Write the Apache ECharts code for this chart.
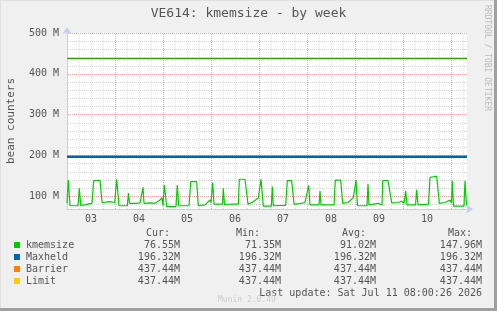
<!DOCTYPE html>
<html><head><meta charset="utf-8">
<script src="https://cdn.jsdelivr.net/npm/echarts@6/dist/echarts.min.js"></script>
<style>html,body{margin:0;padding:0;background:#f0f0f0}#c{width:497px;height:311px}</style>
</head><body><div id="c"></div>
<script>
// ---- data ----
const titleText = 'VE614: kmemsize - by week';
const yAxisName = 'bean counters';
const dayLabels = ['03','04','05','06','07','08','09','10'];
const xMin = 0, xMax = 200;          // hours since day 03 00:00
const yMin = 68, yMax = 500;         // M
const yLabelValues = [100,200,300,400,500];
const yMinorValues = [80,120,140,160,180,220,240,260,280,320,340,360,380,420,440,460,480];
const xMajorValues = [24,48,72,96,120,144,168,192];
const xMinorValues = [6,12,18,30,36,42,54,60,66,78,84,90,102,108,114,126,132,138,150,156,162,174,180,186,198];
const hours = [0,0.65,1.5,5.5,6.15,6.85,7.5,9,10.5,12.5,
 13.35,16.5,17.5,19.5,21.5,22,23.85,24.85,26,30.15,
 30.75,31.25,34,36.5,37.5,38,38.5,41.5,44,46.5,
 47.5,48,48.65,49.85,54.5,55.15,55.85,61,61.85,64.85,
 65.65,69,71.5,72,72.85,73.5,77.75,78.15,78.75,82.5,
 85.65,86.15,89,90.5,92.5,95.65,97,98.15,102.15,102.65,
 103.15,109.35,110.15,112.35,113.5,116.5,119,120,120.85,121.5,
 126,126.5,127,133.5,134.15,136.85,137.85,140.5,143.15,144.5,
 145.25,150,150.5,151,155.65,156.5,157.5,157.85,160.5,162.35,
 165.5,167.35,168.5,169.35,170,174.25,174.85,175.5,180.75,181.5,
 184.85,186.15,189,191.5,192.25,192.65,193.25,198.5,199,199.75];
const kmemsize = [82,139,76,76,119,77,76,78,80,82,
 138,138.5,84.5,85,86,90,84,141,76,76,
 107,82,82,83,82,121,82,83,82,90,
 96,76,127,74,74,127,76,76,135,135,
 76,78,90,84,133,80,80,119,79,80,
 80,141,141,80,84,95,141,75,75,123,
 76,77,137.6,137.6,80,81,84,80,126,78,
 78,112,78,78,139,139,82,84,96,139,
 76,76,129,78,82,78,78,138,138,83,
 84,87,82,112,78,78,115,78,80,146,
 148,82,84,90,83,137,75,75,137,78];
const maxheld = 196.32;
const barrier = 437.44;
const limit = 437.44;
const legendNames = ['kmemsize','Maxheld','Barrier','Limit'];
const curVals = ['76.55M','196.32M','437.44M','437.44M'];
const minVals = ['71.35M','196.32M','437.44M','437.44M'];
const avgVals = ['91.02M','196.32M','437.44M','437.44M'];
const maxVals = ['147.96M','196.32M','437.44M','437.44M'];
const headers = ['Cur:','Min:','Avg:','Max:'];
const lastUpdate = 'Last update: Sat Jul 11 08:00:26 2026';
const muninVersion = 'Munin 2.0.49';
const watermark = 'RRDTOOL / TOBI OETIKER';

// ---- style ----
const colors = ['#00cc00','#0066b3','#ff8000','#ffcc00'];
const mono = 'DejaVu Sans Mono';
const txt = '#555555';
const redGrid = '#f4a6a6', grayGrid = '#d6d6d6', axisCol = '#c8ccf0';

const chart = echarts.init(document.getElementById('c'), null, {renderer:'canvas'});
const constLine = v => [[xMin, v],[xMax, v]];

const option = {
  animation:false,
  backgroundColor:'#f0f0f0',
  grid:{left:67, right:30, top:33, bottom:102, show:true, backgroundColor:'#ffffff', borderWidth:0, z:0,
        containLabel:false, outerBoundsMode:'none'},
  xAxis:{type:'value', min:xMin, max:xMax, interval:12,
    axisLine:{show:true, lineStyle:{color:axisCol}, symbol:['none','arrow'], symbolSize:[7,7], symbolOffset:[0,6]},
    axisTick:{show:false}, splitLine:{show:false}, minorSplitLine:{show:false}, splitArea:{show:false},
    axisLabel:{margin:5, color:txt, fontFamily:mono, fontSize:10, showMinLabel:false, showMaxLabel:false,
      formatter:v => (v % 24 === 12) ? dayLabels[Math.floor(v/24)] : ''}},
  yAxis:{type:'value', min:yMin, max:yMax,
    name:yAxisName, nameLocation:'middle', nameGap:50, nameRotate:90,
    nameTextStyle:{color:txt, fontFamily:mono, fontSize:11},
    axisLine:{show:true, lineStyle:{color:axisCol}, symbol:['none','arrow'], symbolSize:[7,7], symbolOffset:[0,6]},
    axisTick:{show:false}, splitLine:{show:false},
    axisLabel:{margin:8, color:txt, fontFamily:mono, fontSize:10, customValues:yLabelValues,
      formatter:v => v + ' M'}},
  series:[
    {type:'line', name:'Limit', data:constLine(limit), showSymbol:false, symbol:'none', z:3, lineStyle:{color:colors[3], width:2.2}},
    {type:'line', name:'Barrier', data:constLine(barrier), showSymbol:false, symbol:'none', z:3, lineStyle:{color:'#2aa000', width:1.2}},
    {type:'line', name:'Maxheld', data:constLine(maxheld), showSymbol:false, symbol:'none', z:3, lineStyle:{color:colors[1], width:2.5}},
    {type:'line', name:'kmemsize', data:hours.map((h,i)=>[h, kmemsize[i]]), showSymbol:false, symbol:'none', z:4, lineStyle:{color:colors[0], width:1.2}}
  ]
};
chart.setOption(option);

// ---- dotted grid lines positioned through the chart's own scales (1px dots every 2px) ----
const px = (x, y) => chart.convertToPixel({gridIndex:0}, [x, y]);
const pTL = px(xMin, yMax), pBR = px(xMax, yMin);
const x0 = Math.round(pTL[0]), x1 = Math.round(pBR[0]);
const y0 = Math.round(pTL[1]), y1 = Math.round(pBR[1]);
const graphic = [];
const hLine = (v, c) => { const y = Math.round(px(xMin, v)[1]);
  for (let x = x0 + 1; x < x1; x += 2) graphic.push({type:'rect', z:1, silent:true, shape:{x:x, y:y, width:1, height:1}, style:{fill:c}}); };
const vLine = (v, c) => { const x = Math.round(px(v, yMin)[0]);
  for (let y = y0 + 1; y < y1; y += 2) graphic.push({type:'rect', z:1, silent:true, shape:{x:x, y:y, width:1, height:1}, style:{fill:c}}); };
yMinorValues.forEach(v => hLine(v, grayGrid));
xMinorValues.forEach(v => vLine(v, '#e2e2e2'));
yLabelValues.forEach(v => hLine(v, redGrid));
xMajorValues.forEach(v => vLine(v, redGrid));

// frame and texts
graphic.push({type:'line', shape:{x1:0,y1:0.5,x2:497,y2:0.5}, style:{stroke:'#e0e0e0',lineWidth:1}});
graphic.push({type:'line', shape:{x1:0.5,y1:0,x2:0.5,y2:311}, style:{stroke:'#e0e0e0',lineWidth:1}});
graphic.push({type:'rect', shape:{x:0,y:308,width:497,height:3}, style:{fill:'#a0a0a0'}});
graphic.push({type:'rect', shape:{x:494,y:0,width:3,height:311}, style:{fill:'#a0a0a0'}});
graphic.push({type:'text', x:248.5, y:14, style:{text:titleText, font:'13px '+mono, fill:txt, align:'center', verticalAlign:'middle'}});
graphic.push({type:'text', x:487, y:5, rotation:-Math.PI/2, style:{text:watermark, font:'8px '+mono, fill:'#bbbbbb', align:'left', verticalAlign:'middle'}});
const headerX = [146,236,342,448];
headers.forEach((h,i)=>graphic.push({type:'text', x:headerX[i], y:233, style:{text:h, font:'10px '+mono, fill:txt, align:'left', verticalAlign:'middle'}}));
const colRight = [180,281,376,482];
const cols = [curVals,minVals,avgVals,maxVals];
legendNames.forEach((n,r)=>{
  const y = 245 + r*12;
  graphic.push({type:'rect', shape:{x:14,y:y-3,width:6,height:6}, style:{fill:colors[r]}});
  graphic.push({type:'text', x:26, y:y, style:{text:n, font:'10px '+mono, fill:txt, align:'left', verticalAlign:'middle'}});
  cols.forEach((c,ci)=>graphic.push({type:'text', x:colRight[ci], y:y, style:{text:c[r], font:'10px '+mono, fill:txt, align:'right', verticalAlign:'middle'}}));
});
graphic.push({type:'text', x:482, y:293, style:{text:lastUpdate, font:'10px '+mono, fill:txt, align:'right', verticalAlign:'middle'}});
graphic.push({type:'text', x:218, y:300, style:{text:muninVersion, font:'8px '+mono, fill:'#cccccc', align:'left', verticalAlign:'middle'}});

chart.setOption({graphic: graphic});
</script>
</body></html>
